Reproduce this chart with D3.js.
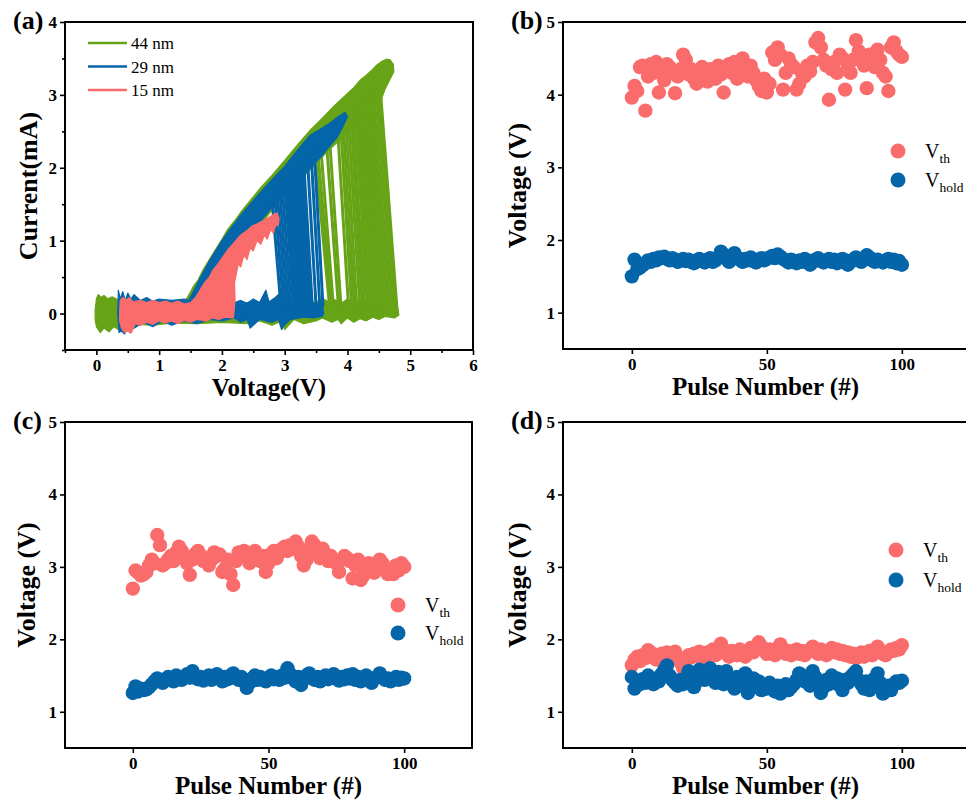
<!DOCTYPE html>
<html>
<head>
<meta charset="utf-8">
<script src="https://cdn.jsdelivr.net/npm/d3@7"></script>
<style>
  body { margin: 0; background: #fff; }
  text { font-family: "Liberation Serif", "Times New Roman", serif; fill: #000; }
</style>
</head>
<body>
<svg width="966" height="804"></svg>
<script>
// ---------- panel (a): I-V loops, [voltage, current] ----------
const ivNames = ['44 nm', '29 nm', '15 nm'];

// off-state band outline (upper edge left->right, then lower edge back)
const greenOff = [[-0.02,0.05],[0.0,0.2],[0.03,0.26],[0.08,0.22],[0.12,0.25],[0.18,0.2],[0.25,0.23],[0.32,0.2],[0.38,0.14],
  [0.6,0.16],[1.0,0.15],[1.5,0.17],[2.0,0.14],[2.5,0.15],[2.9,0.17],[3.0,0.22],[3.1,0.15],[3.5,0.16],[3.62,0.2],[3.7,0.16],
  [3.8,0.19],[3.9,0.14],[4.0,0.2],[4.1,0.15],[4.2,0.18],[4.3,0.14],[4.4,0.17],[4.5,0.13],[4.6,0.16],[4.7,0.12],[4.8,0.08],
  [4.82,-0.02],[4.75,-0.06],[4.6,-0.04],[4.5,-0.08],[4.4,-0.05],[4.3,-0.1],[4.2,-0.07],[4.1,-0.12],[4.0,-0.06],[3.9,-0.14],
  [3.85,-0.08],[3.75,-0.12],[3.6,-0.06],[3.5,-0.1],[3.3,-0.14],[3.15,-0.08],[3.0,-0.22],[2.95,-0.1],[2.8,-0.16],[2.6,-0.1],
  [2.4,-0.14],[2.0,-0.12],[1.6,-0.14],[1.2,-0.13],[0.9,-0.16],[0.6,-0.15],[0.4,-0.18],[0.35,-0.22],[0.28,-0.18],[0.2,-0.25],
  [0.12,-0.2],[0.06,-0.26],[0.0,-0.18],[-0.02,-0.08]];
// on-state branch outline
const greenOn = [[1.42,0.18],[1.5,0.3],[1.55,0.38],[1.62,0.46],[1.7,0.6],[1.8,0.74],[1.9,0.88],[2.0,1.02],[2.08,1.14],[2.2,1.27],
  [2.3,1.39],[2.45,1.55],[2.61,1.72],[2.8,1.9],[3.0,2.1],[3.2,2.31],[3.41,2.52],[3.6,2.68],[3.8,2.86],[3.95,2.98],[4.1,3.1],
  [4.2,3.2],[4.3,3.27],[4.4,3.35],[4.47,3.41],[4.55,3.46],[4.62,3.49],[4.68,3.48],[4.73,3.42],[4.74,3.32],[4.68,3.22],
  [4.6,3.08],[4.53,2.92],[4.3,2.72],[4.0,2.48],[3.7,2.24],[3.4,1.97],[3.1,1.7],[2.8,1.42],[2.5,1.1],[2.2,0.75],[1.95,0.42],[1.75,0.18]];
// switching traces per cycle: [V top, I top, V bottom, I bottom]
const greenSwitch = [[3.48,2.25,3.72,0.05],[3.52,2.3,3.75,0.05],[3.57,2.34,3.78,0.05],[3.66,2.42,3.86,0.05],[3.71,2.46,3.9,0.05],
  [3.84,2.58,4.02,0.05],[3.89,2.62,4.07,0.05],[3.93,2.66,4.11,0.05],[3.97,2.7,4.15,0.05],[4.01,2.73,4.2,0.05],[4.05,2.77,4.24,0.05],
  [4.08,2.8,4.28,0.05],[4.12,2.83,4.32,0.05],[4.15,2.86,4.36,0.05],[4.18,2.88,4.4,0.05],[4.21,2.9,4.43,0.05],[4.24,2.93,4.46,0.05],
  [4.27,2.95,4.5,0.05],[4.3,2.98,4.53,0.05],[4.33,3.0,4.57,0.05],[4.36,3.03,4.6,0.05],[4.39,3.05,4.64,0.05],[4.42,3.07,4.68,0.05],
  [4.46,3.1,4.72,0.05],[4.5,3.1,4.76,0.05],[4.53,3.0,4.79,0.05]];

const blueOff = [[0.34,0.0],[0.35,0.32],[0.38,0.2],[0.42,0.3],[0.46,0.18],[0.5,0.28],[0.55,0.2],[0.6,0.26],[0.7,0.18],[0.8,0.22],
  [0.9,0.17],[1.0,0.2],[1.2,0.18],[1.4,0.2],[1.5,0.17],[2.2,0.15],[2.3,0.18],[2.4,0.14],[2.5,0.2],[2.6,0.15],[2.7,0.32],[2.75,0.16],
  [2.85,0.22],[2.95,0.3],[3.0,0.15],[3.2,0.14],[3.4,0.16],[3.5,0.13],[3.6,0.15],[3.62,0.0],[3.6,-0.04],[3.45,-0.06],[3.3,-0.05],
  [3.1,-0.08],[3.0,-0.15],[2.95,-0.22],[2.9,-0.08],[2.8,-0.12],[2.6,-0.08],[2.45,-0.2],[2.4,-0.08],[2.3,-0.12],[2.2,-0.06],
  [2.0,-0.1],[1.8,-0.08],[1.6,-0.14],[1.4,-0.1],[1.2,-0.16],[1.05,-0.1],[0.9,-0.18],[0.75,-0.12],[0.6,-0.2],[0.5,-0.18],
  [0.45,-0.28],[0.4,-0.24],[0.36,-0.26]];
const blueOn = [[1.45,0.15],[1.52,0.26],[1.58,0.36],[1.65,0.48],[1.8,0.72],[1.9,0.86],[2.0,1.0],[2.15,1.18],[2.3,1.35],[2.45,1.5],
  [2.61,1.66],[2.8,1.84],[3.0,2.02],[3.2,2.24],[3.41,2.45],[3.55,2.52],[3.7,2.6],[3.85,2.7],[3.96,2.76],[4.0,2.7],[3.92,2.55],
  [3.83,2.41],[3.7,2.28],[3.57,2.14],[3.4,2.0],[3.2,1.8],[3.0,1.64],[2.82,1.48],[2.6,1.25],[2.4,1.0],[2.2,0.75],[2.0,0.5],
  [1.85,0.3],[1.75,0.15]];
const blueSwitch = [[2.80,1.55,2.94,0.1],[2.84,1.62,2.98,0.1],[2.88,1.68,3.02,0.1],[2.92,1.72,3.06,0.1],[2.96,1.76,3.1,0.1],
  [3.0,1.8,3.14,0.1],[3.03,1.83,3.17,0.1],[3.06,1.86,3.2,0.1],[3.09,1.9,3.23,0.1],[3.12,1.93,3.26,0.1],[3.15,1.96,3.29,0.1],
  [3.18,1.99,3.32,0.1],[3.21,2.02,3.35,0.1],[3.24,2.05,3.38,0.1],[3.27,2.08,3.41,0.1],[3.3,2.11,3.44,0.1],[3.36,2.16,3.5,0.1],
  [3.42,2.2,3.56,0.1],[3.47,2.24,3.61,0.1]];

const redOff = [[0.37,0.0],[0.38,0.18],[0.42,0.22],[0.48,0.19],[0.53,0.22],[0.58,0.16],[0.7,0.18],[0.8,0.15],[0.9,0.18],[1.0,0.15],
  [1.1,0.17],[1.2,0.14],[1.3,0.17],[1.4,0.13],[1.5,0.15],[1.58,0.22],[1.65,0.32],[1.72,0.42],[1.8,0.5],[1.86,0.6],[1.92,0.66],
  [2.0,0.76],[2.1,0.88],[2.2,0.98],[2.29,1.07],[2.4,1.14],[2.48,1.2],[2.56,1.23],[2.65,1.27],[2.75,1.32],[2.82,1.36],[2.88,1.38],
  [2.91,1.3],[2.9,1.22],[2.85,1.2],[2.82,1.1],[2.78,1.16],[2.72,1.02],[2.68,1.08],[2.62,0.95],[2.56,1.0],[2.5,0.86],[2.45,0.9],
  [2.4,0.74],[2.35,0.8],[2.3,0.64],[2.26,0.68],[2.22,0.5],[2.2,0.42],[2.21,0.2],[2.19,0.0],[2.18,-0.06],[2.05,-0.05],[1.95,-0.08],
  [1.85,-0.06],[1.75,-0.1],[1.6,-0.08],[1.5,-0.12],[1.4,-0.09],[1.3,-0.14],[1.2,-0.1],[1.1,-0.13],[1.0,-0.1],[0.9,-0.15],
  [0.8,-0.12],[0.7,-0.16],[0.62,-0.14],[0.58,-0.22],[0.55,-0.27],[0.5,-0.24],[0.45,-0.26],[0.4,-0.2],[0.37,-0.1]];
const redOn = [];
const redSwitch = [];

// ---------- panels (b)-(d): pulse number 0..100 ----------
const pulse = d3.range(0, 101);

const vthB = [3.96,4.12,4.05,4.38,4.40,3.78,4.25,4.42,4.30,4.45,4.03,4.35,4.20,4.42,4.38,4.30,4.02,4.25,4.35,4.55,4.48,
  4.28,4.35,4.22,4.15,4.32,4.38,4.25,4.18,4.35,4.30,4.22,4.40,4.28,4.03,4.35,4.42,4.30,4.45,4.22,4.32,
  4.50,4.38,4.25,4.40,4.30,4.20,4.12,4.05,4.22,4.03,4.15,4.58,4.48,4.65,4.55,4.07,4.30,4.50,4.42,4.38,
  4.07,4.15,4.30,4.25,4.40,4.32,4.45,4.72,4.78,4.65,4.48,4.40,3.93,4.35,4.45,4.30,4.55,4.50,4.07,4.42,
  4.30,4.48,4.75,4.60,4.52,4.40,4.09,4.55,4.45,4.38,4.62,4.48,4.30,4.25,4.05,4.65,4.72,4.60,4.55,4.52];
const vholdB = [1.50,1.73,1.60,1.62,1.65,1.68,1.72,1.70,1.74,1.72,1.76,1.75,1.77,1.74,1.72,1.75,1.73,1.70,1.72,1.74,1.71,
  1.73,1.70,1.68,1.72,1.74,1.71,1.69,1.73,1.75,1.70,1.72,1.76,1.84,1.80,1.74,1.70,1.78,1.82,1.76,1.73,
  1.70,1.74,1.72,1.76,1.71,1.69,1.73,1.75,1.72,1.74,1.76,1.78,1.75,1.80,1.77,1.74,1.72,1.69,1.73,1.71,
  1.68,1.72,1.70,1.74,1.72,1.66,1.70,1.73,1.75,1.71,1.69,1.72,1.74,1.70,1.73,1.68,1.71,1.74,1.72,1.66,
  1.70,1.73,1.76,1.72,1.70,1.74,1.79,1.76,1.72,1.70,1.73,1.71,1.69,1.72,1.74,1.70,1.73,1.68,1.71,1.66];

const vthC = [2.70,2.95,2.92,2.88,2.90,2.93,3.02,3.10,3.05,3.44,3.30,3.02,3.05,3.10,3.15,3.08,3.20,3.28,3.22,3.15,3.05,
  2.89,3.10,3.18,3.22,3.16,3.08,3.12,3.02,3.10,3.20,3.15,3.17,2.93,2.98,3.10,2.90,2.75,3.08,3.20,3.17,
  3.22,3.15,3.05,3.18,3.22,3.12,3.08,3.15,2.93,3.05,3.18,3.22,3.12,3.20,3.25,3.28,3.22,3.30,3.25,3.35,
  3.28,3.15,3.02,3.10,3.25,3.35,3.30,3.20,3.12,3.25,3.18,3.08,3.15,3.10,3.05,2.93,3.10,3.15,3.12,3.08,
  2.84,3.02,3.10,2.82,2.88,2.95,3.05,2.98,2.92,3.02,3.10,3.05,2.98,2.90,2.92,2.90,3.02,2.95,3.05,3.00];
const vholdC = [1.26,1.35,1.28,1.32,1.30,1.31,1.34,1.38,1.42,1.46,1.44,1.40,1.45,1.48,1.46,1.42,1.50,1.46,1.44,1.48,1.52,
  1.47,1.56,1.50,1.45,1.48,1.43,1.46,1.50,1.44,1.48,1.52,1.46,1.42,1.48,1.45,1.50,1.53,1.47,1.44,1.48,
  1.42,1.33,1.40,1.46,1.50,1.44,1.48,1.45,1.42,1.47,1.50,1.45,1.48,1.44,1.50,1.47,1.60,1.52,1.46,1.42,
  1.48,1.37,1.45,1.50,1.53,1.47,1.44,1.48,1.42,1.46,1.50,1.45,1.48,1.52,1.46,1.43,1.48,1.45,1.50,1.46,
  1.52,1.44,1.48,1.42,1.46,1.50,1.44,1.40,1.46,1.48,1.53,1.47,1.44,1.46,1.42,1.45,1.48,1.44,1.47,1.46];

const vthD = [1.64,1.72,1.76,1.70,1.78,1.74,1.85,1.82,1.76,1.72,1.78,1.80,1.76,1.82,1.78,1.74,1.83,1.76,1.68,1.60,1.72,
  1.78,1.75,1.80,1.77,1.83,1.78,1.74,1.82,1.80,1.86,1.78,1.84,1.94,1.86,1.80,1.76,1.84,1.82,1.78,1.86,
  1.80,1.76,1.84,1.88,1.82,1.90,1.96,1.90,1.84,1.80,1.86,1.82,1.78,1.88,1.93,1.86,1.80,1.84,1.78,1.82,
  1.86,1.80,1.84,1.78,1.82,1.86,1.90,1.84,1.80,1.86,1.82,1.78,1.84,1.88,1.82,1.86,1.80,1.84,1.78,1.82,
  1.76,1.80,1.74,1.78,1.82,1.76,1.80,1.84,1.78,1.86,1.90,1.84,1.80,1.78,1.82,1.86,1.84,1.88,1.86,1.92];
const vholdD = [1.48,1.32,1.42,1.38,1.45,1.40,1.50,1.44,1.38,1.46,1.42,1.52,1.58,1.64,1.50,1.44,1.40,1.36,1.44,1.38,1.46,
  1.56,1.40,1.34,1.42,1.58,1.50,1.44,1.54,1.60,1.48,1.40,1.55,1.46,1.38,1.56,1.44,1.40,1.32,1.48,1.36,
  1.44,1.53,1.26,1.40,1.46,1.34,1.42,1.30,1.36,1.32,1.40,1.34,1.28,1.36,1.25,1.32,1.38,1.30,1.34,1.38,
  1.44,1.53,1.50,1.42,1.48,1.36,1.56,1.48,1.40,1.26,1.34,1.44,1.38,1.50,1.42,1.46,1.36,1.30,1.44,1.40,
  1.48,1.52,1.56,1.44,1.38,1.32,1.42,1.30,1.36,1.46,1.53,1.40,1.25,1.32,1.36,1.30,1.38,1.42,1.40,1.43];

const GREEN = '#67a316', BLUE = '#0565a9', RED = '#fa6c6c';

const svg = d3.select('svg');

function frame(g, x, y, xTicks, yTicks, xMinor, yMinor) {
  const [x0, x1] = x.range();
  const [y0, y1] = y.range();
  const xa = g.append('g').attr('transform', `translate(0,${y0})`)
    .call(d3.axisBottom(x).tickValues(xTicks).tickSize(5).tickPadding(4).tickFormat(d3.format('d')));
  const ya = g.append('g').attr('transform', `translate(${x0},0)`)
    .call(d3.axisLeft(y).tickValues(yTicks).tickSize(5).tickPadding(3).tickFormat(d3.format('d')));
  if (xMinor) g.append('g').attr('transform', `translate(0,${y0})`)
    .call(d3.axisBottom(x).tickValues(xMinor).tickSize(3).tickFormat(''));
  if (yMinor) g.append('g').attr('transform', `translate(${x0},0)`)
    .call(d3.axisLeft(y).tickValues(yMinor).tickSize(3).tickFormat(''));
  g.selectAll('.domain').remove();
  g.selectAll('.tick line').attr('stroke', '#000').attr('stroke-width', 1.6);
  [xa, ya].forEach(a => a.selectAll('text')
    .style('font-family', '"Liberation Serif", serif').style('font-weight', 'bold')
    .style('font-size', '17px').attr('fill', '#000'));
  g.append('rect').attr('x', x0).attr('y', y1).attr('width', x1 - x0).attr('height', y0 - y1)
    .attr('fill', 'none').attr('stroke', '#000').attr('stroke-width', 2);
}

function titles(g, x, y, label, xTitle, yTitle, yTitleX) {
  const [x0, x1] = x.range();
  const [y0, y1] = y.range();
  g.append('text').attr('x', x0 - 52).attr('y', y1 + 7)
    .style('font-size', '26px').style('font-weight', 'bold').text(label);
  g.append('text').attr('x', (x0 + x1) / 2).attr('y', y0 + 46).attr('text-anchor', 'middle')
    .style('font-size', '25px').style('font-weight', 'bold').text(xTitle);
  g.append('text').attr('transform', `translate(${yTitleX},${(y0 + y1) / 2}) rotate(-90)`)
    .attr('text-anchor', 'middle')
    .style('font-size', '26px').style('font-weight', 'bold').text(yTitle);
}

// ---------- (a) ----------
{
  const x = d3.scaleLinear().domain([-0.5, 6]).range([65, 473]);
  const y = d3.scaleLinear().domain([-0.5, 4]).range([350, 22]);
  const g = svg.append('g');
  const series = [
    { name: ivNames[0], color: GREEN, off: greenOff, on: greenOn, sw: greenSwitch },
    { name: ivNames[1], color: BLUE, off: blueOff, on: blueOn, sw: blueSwitch },
    { name: ivNames[2], color: RED, off: redOff, on: redOn, sw: redSwitch }
  ];
  const poly = d3.line().x(d => x(d[0])).y(d => y(d[1])).curve(d3.curveLinearClosed);
  series.forEach(s => {
    const sg = g.append('g');
    [s.off, s.on].filter(p => p.length).forEach(p =>
      sg.append('path').attr('d', poly(p)).attr('fill', s.color)
        .attr('stroke', s.color).attr('stroke-width', 1.2).attr('stroke-linejoin', 'round'));
    sg.selectAll('line.sw').data(s.sw).join('line').attr('class', 'sw')
      .attr('x1', d => x(d[0])).attr('y1', d => y(d[1]))
      .attr('x2', d => x(d[2])).attr('y2', d => y(d[3]))
      .attr('stroke', s.color).attr('stroke-width', 3);
  });
  frame(g, x, y, d3.range(0, 7), d3.range(0, 5),
    [-0.5, 0.5, 1.5, 2.5, 3.5, 4.5, 5.5], [-0.5, 0.5, 1.5, 2.5, 3.5]);
  titles(g, x, y, '(a)', 'Voltage(V)', 'Current(mA)', 37);

  const lg = g.append('g');
  series.forEach((s, i) => {
    const ly = 43 + i * 23.5;
    lg.append('line').attr('x1', 88).attr('x2', 127).attr('y1', ly).attr('y2', ly)
      .attr('stroke', s.color).attr('stroke-width', 2.5);
    lg.append('text').attr('x', 131).attr('y', ly + 6).style('font-size', '17px').text(s.name);
  });
}

// ---------- (b), (c), (d) ----------
function pulsePanel(opt) {
  const x = d3.scaleLinear().domain(opt.xDomain).range(opt.xRange);
  const y = d3.scaleLinear().domain([0.5, 5]).range(opt.yRange);
  const g = svg.append('g');
  [[opt.vth, RED], [opt.vhold, BLUE]].forEach(([vals, col]) => {
    g.append('g').selectAll('circle').data(vals).join('circle')
      .attr('cx', (d, i) => x(pulse[i])).attr('cy', d => y(d)).attr('r', 7.2).attr('fill', col);
  });
  frame(g, x, y, [0, 50, 100], [1, 2, 3, 4, 5]);
  titles(g, x, y, opt.label, 'Pulse Number (#)', 'Voltage (V)', opt.yTitleX);
  [['th', RED], ['hold', BLUE]].forEach(([sub, col], i) => {
    const cy = opt.leg[1] + i * opt.leg[2];
    g.append('circle').attr('cx', opt.leg[0]).attr('cy', cy).attr('r', 7.5).attr('fill', col);
    const t = g.append('text').attr('x', opt.leg[0] + 27).attr('y', cy + 7).style('font-size', '20px');
    t.append('tspan').text('V');
    t.append('tspan').attr('dy', 5).style('font-size', '13.5px').text(sub);
  });
}

pulsePanel({ label: '(b)', vth: vthB, vhold: vholdB, xDomain: [-25.5, 124.5], xRange: [563, 968],
  yRange: [349, 22], yTitleX: 526, leg: [898, 151, 29] });
pulsePanel({ label: '(c)', vth: vthC, vhold: vholdC, xDomain: [-25, 125], xRange: [65, 472],
  yRange: [748, 422], yTitleX: 35, leg: [398, 605, 28] });
pulsePanel({ label: '(d)', vth: vthD, vhold: vholdD, xDomain: [-25.5, 124.5], xRange: [563, 968],
  yRange: [748, 422], yTitleX: 526, leg: [896, 550, 30] });
</script>
</body>
</html>
